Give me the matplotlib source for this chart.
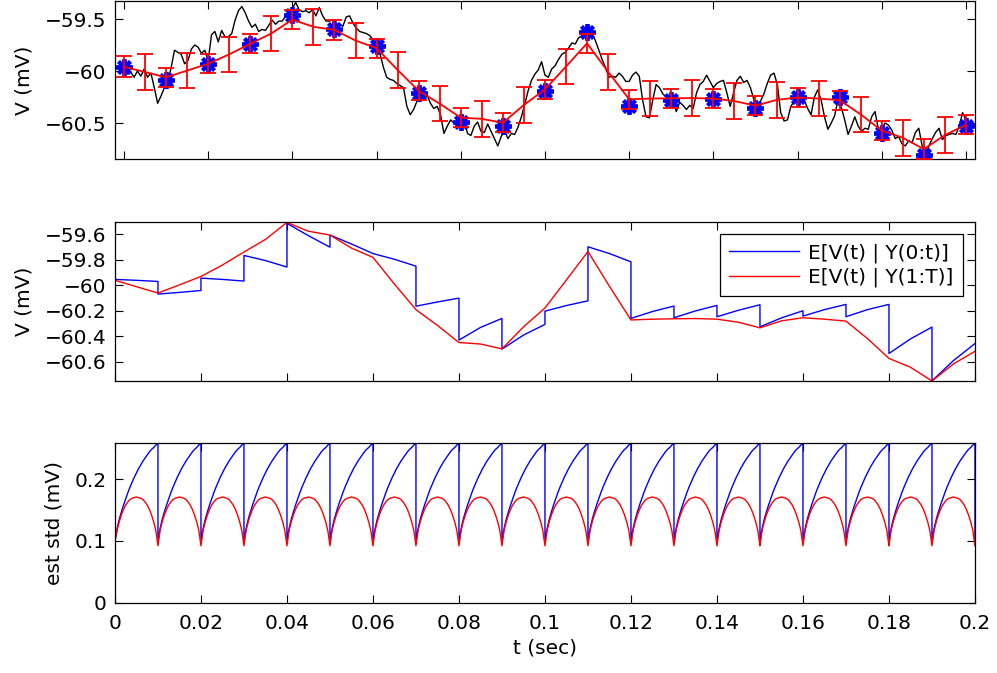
import numpy as np
import matplotlib
matplotlib.use("Agg")
import matplotlib.pyplot as plt
from matplotlib.ticker import FuncFormatter

plt.rcParams['font.family'] = ['DejaVu Sans']
plt.rcParams['font.size'] = 14.5

# measured voltage trace (mV), evenly spaced over 0..0.2 s
black_v = [
    -59.99, -60.03, -60.01, -60.06, -60.00, -60.05, -59.98, -60.06, -60.02, -60.16,
    -60.31, -60.24, -60.16, -60.10, -59.97, -59.80, -59.82, -59.84, -59.93, -59.90,
    -59.79, -59.75, -59.77, -59.83, -59.80, -59.90, -59.65, -59.62, -59.72, -59.61,
    -59.67, -59.67, -59.64, -59.51, -59.42, -59.38, -59.44, -59.52, -59.58, -59.55,
    -59.62, -59.60, -59.61, -59.56, -59.51, -59.55, -59.52, -59.52, -59.47, -59.45,
    -59.40, -59.34, -59.41, -59.43, -59.42, -59.44, -59.41, -59.47, -59.39, -59.47,
    -59.52, -59.52, -59.51, -59.55, -59.55, -59.57, -59.48, -59.47, -59.54, -59.59,
    -59.62, -59.63, -59.64, -59.66, -59.70, -59.77, -59.83, -59.96, -60.06, -60.08,
    -60.09, -60.12, -60.14, -60.16, -60.34, -60.42, -60.37, -60.29, -60.25, -60.28,
    -60.23, -60.31, -60.36, -60.34, -60.42, -60.60, -60.53, -60.47, -60.50, -60.53,
    -60.50, -60.47, -60.60, -60.62, -60.53, -60.49, -60.58, -60.59, -60.51, -60.58,
    -60.65, -60.72, -60.63, -60.57, -60.65, -60.60, -60.61, -60.54, -60.44, -60.32,
    -60.19, -60.09, -60.03, -59.99, -59.91, -60.04, -60.06, -59.98, -59.95, -59.89,
    -59.84, -59.82, -59.78, -59.73, -59.74, -59.68, -59.66, -59.59, -59.56, -59.64,
    -59.71, -59.80, -59.89, -59.97, -60.06, -60.05, -60.06, -60.02, -60.05, -60.10,
    -60.10, -60.04, -60.01, -60.05, -60.28, -60.44, -60.45, -60.28, -60.13, -60.16,
    -60.22, -60.25, -60.28, -60.29, -60.39, -60.30, -60.33, -60.37, -60.33, -60.36,
    -60.21, -60.13, -60.10, -60.04, -60.10, -60.16, -60.12, -60.10, -60.09, -60.21,
    -60.34, -60.21, -60.09, -60.05, -60.11, -60.09, -60.16, -60.27, -60.31, -60.29,
    -60.22, -60.12, -60.04, -60.02, -60.13, -60.40, -60.48, -60.47, -60.34, -60.29,
    -60.25, -60.21, -60.28, -60.36, -60.42, -60.25, -60.18, -60.28, -60.44, -60.56,
    -60.50, -60.43, -60.28, -60.35, -60.47, -60.61, -60.53, -60.44, -60.53, -60.58,
    -60.55, -60.56, -60.44, -60.39, -60.56, -60.55, -60.50, -60.52, -60.57, -60.65,
    -60.63, -60.70, -60.72, -60.67, -60.69, -60.59, -60.55, -60.72, -60.81, -60.72,
    -60.65, -60.59, -60.55, -60.66, -60.62, -60.61, -60.60, -60.61, -60.53, -60.40,
    -60.47,
]

# observations every 0.01 s
obs_t = [0.00, 0.01, 0.02, 0.03, 0.04, 0.05, 0.06, 0.07, 0.08, 0.09, 0.10,
         0.11, 0.12, 0.13, 0.14, 0.15, 0.16, 0.17, 0.18, 0.19, 0.20]
obs_v = [-59.959, -60.087, -59.936, -59.742, -59.465, -59.599, -59.758,
         -60.214, -60.486, -60.533, -60.189, -59.624, -60.335, -60.278,
         -60.268, -60.357, -60.252, -60.252, -60.597, -60.804, -60.527]

# smoothed mean E[V(t) | Y(1:T)] every 0.005 s
smooth_t = [0.000, 0.005, 0.010, 0.015, 0.020, 0.025, 0.030, 0.035, 0.040, 0.045,
            0.050, 0.055, 0.060, 0.065, 0.070, 0.075, 0.080, 0.085, 0.090, 0.095,
            0.100, 0.105, 0.110, 0.115, 0.120, 0.125, 0.130, 0.135, 0.140, 0.145,
            0.150, 0.155, 0.160, 0.165, 0.170, 0.175, 0.180, 0.185, 0.190, 0.195,
            0.200]
smooth_v = [-59.960, -60.010, -60.060, -59.996, -59.930, -59.840, -59.738, -59.639,
            -59.506, -59.575, -59.605, -59.707, -59.780, -59.990, -60.190, -60.314,
            -60.448, -60.460, -60.498, -60.326, -60.177, -59.957, -59.734, -60.007,
            -60.271, -60.265, -60.262, -60.260, -60.265, -60.289, -60.333, -60.278,
            -60.254, -60.265, -60.280, -60.417, -60.573, -60.642, -60.750, -60.616,
            -60.517]

# filtered mean E[V(t) | Y(0:t)]: right after each observation, halfway, right before next
filt_post = [-59.953, -60.068, -59.943, -59.765, -59.513, -59.605, -59.750,
             -60.163, -60.429, -60.500, -60.202, -59.697, -60.259, -60.254,
             -60.246, -60.325, -60.241, -60.246, -60.534, -60.749]
filt_mid = [-59.960, -60.055, -59.953, -59.805, -59.610, -59.675, -59.795,
            -60.130, -60.330, -60.390, -60.158, -59.750, -60.205, -60.200,
            -60.195, -60.255, -60.190, -60.190, -60.420, -60.590]
filt_pre = [-59.969, -60.040, -59.966, -59.856, -59.700, -59.750, -59.849,
            -60.100, -60.259, -60.306, -60.121, -59.815, -60.162, -60.157,
            -60.152, -60.199, -60.149, -60.149, -60.327, -60.456]

# std within one 0.01 s period, sampled every 1/20 of the period
filt_sd_period = [0.100, 0.120, 0.135, 0.147, 0.158, 0.168, 0.178, 0.187, 0.195,
                  0.203, 0.210, 0.217, 0.223, 0.229, 0.234, 0.239, 0.244, 0.248,
                  0.251, 0.255, 0.258]
smooth_sd_period = [0.092, 0.117, 0.131, 0.142, 0.151, 0.158, 0.163, 0.167, 0.169,
                    0.170, 0.171, 0.170, 0.169, 0.167, 0.163, 0.158, 0.151, 0.142,
                    0.131, 0.117, 0.092]
sd_start = 0.100
period = 0.01
n_periods = 20

# ---- assemble curves
black_t = np.linspace(0, 0.2, len(black_v))

ft, fv = [], []
for k in range(n_periods):
    ft += [obs_t[k], obs_t[k] + period / 2, obs_t[k + 1]]
    fv += [filt_post[k], filt_mid[k], filt_pre[k]]

frac = np.linspace(0, 1, len(filt_sd_period))
st, s_f, s_s = [], [], []
for k in range(n_periods):
    st += list(obs_t[k] + frac * period)
    s_f += filt_sd_period
    s_s += smooth_sd_period
s_s[0] = sd_start
st.append(obs_t[-1])
s_f.append(filt_sd_period[0])
s_s.append(smooth_sd_period[-1])

mid = len(smooth_sd_period) // 2
smooth_err = []
for i in range(len(smooth_t)):
    smooth_err.append(smooth_sd_period[0] if i % 2 == 0 else smooth_sd_period[mid])
smooth_err[0] = sd_start


def fmt(x, pos):
    return ('%g' % round(x, 6)).replace('-', '\u2212')


def style(ax):
    ax.tick_params(direction='in', length=6, width=0.8, top=True, right=True,
                   labelsize=14.5)
    ax.tick_params(axis='y', pad=6)
    ax.tick_params(axis='x', pad=8)
    for s in ax.spines.values():
        s.set_linewidth(0.9)
    ax.yaxis.set_major_formatter(FuncFormatter(fmt))
    ax.xaxis.set_major_formatter(FuncFormatter(fmt))


fig = plt.figure(figsize=(9.97, 6.73), dpi=100)
ax1 = fig.add_axes([0.1153, 0.7637, 0.8626, 0.2348])
ax2 = fig.add_axes([0.1153, 0.4339, 0.8626, 0.2367])
ax3 = fig.add_axes([0.1153, 0.1045, 0.8626, 0.2369])
xticks = np.arange(0, 0.2001, 0.02)

# top: data, observations, smoothed estimate with error bars
ax1.plot(black_t, black_v, color='black', lw=1.0, zorder=1)
ax1.plot(obs_t, obs_v, linestyle='none', marker=(8, 2, 0), markersize=12,
         markeredgewidth=2.8, color='blue', zorder=2)
ax1.errorbar(smooth_t, smooth_v, yerr=smooth_err, color='red', lw=1.3,
             elinewidth=1.3, capsize=6, capthick=1.3, zorder=3)
ax1.set_xlim(-0.00214, 0.20214)
ax1.set_ylim(-60.846, -59.327)
ax1.set_xticks(xticks)
ax1.set_yticks([-60.5, -60, -59.5])
style(ax1)
ax1.set_xticklabels([])
ax1.set_ylabel('V (mV)', labelpad=8)

# middle: filtered vs smoothed mean
ax2.plot(ft, fv, color='blue', lw=1.0, label='E[V(t) | Y(0:t)]')
ax2.plot(smooth_t, smooth_v, color='red', lw=1.0, label='E[V(t) | Y(1:T)]')
ax2.set_xlim(0, 0.2)
ax2.set_ylim(-60.75, -59.5)
ax2.set_xticks(xticks)
ax2.set_yticks([-60.6, -60.4, -60.2, -60, -59.8, -59.6])
style(ax2)
ax2.set_xticklabels([])
ax2.set_ylabel('V (mV)', labelpad=8)
leg = ax2.legend(loc='upper right', bbox_to_anchor=(0.9857, 0.921), borderaxespad=0,
                 fancybox=False, edgecolor='black', framealpha=1, handlelength=3.5,
                 handletextpad=0.45, labelspacing=0.25, borderpad=0.45,
                 fontsize=14.5)
leg.get_frame().set_linewidth(0.9)

# bottom: estimated std
ax3.plot(st, s_f, color='blue', lw=1.0)
ax3.plot(st, s_s, color='red', lw=1.0)
ax3.set_xlim(0, 0.2)
ax3.set_ylim(0, 0.258)
ax3.set_xticks(xticks)
ax3.set_yticks([0, 0.1, 0.2])
style(ax3)
ax3.set_ylabel('est std (mV)', labelpad=8)
ax3.set_xlabel('t (sec)', labelpad=4)

fig.savefig('out.png', dpi=100)
